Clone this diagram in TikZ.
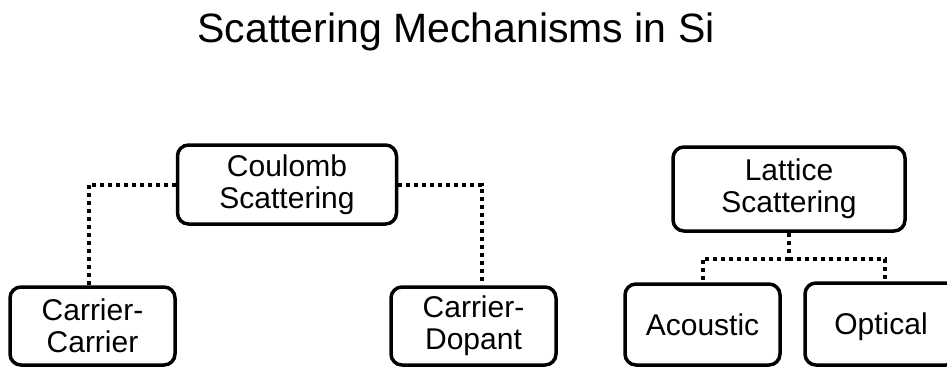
\documentclass[tikz,border=0pt]{standalone}
\usepackage{fontspec}
\setmainfont{Liberation Sans}
\begin{document}
\begin{tikzpicture}[x=1pt,y=-1pt,
  box/.style={draw=black, line width=3.5pt, rounded corners=11pt, fill=white,
    align=center, inner sep=0pt, font=\fontsize{30}{32}\selectfont},
  link/.style={line width=4pt, dash pattern=on 4pt off 4pt}]
  \useasboundingbox (0,0) rectangle (947,367);
  \clip (0,0) rectangle (947,367);

  % title
  \node[anchor=base, font=\fontsize{41}{44}\selectfont] (title) at (456,42)
    {Scattering Mechanisms in Si};

  % Coulomb branch
  \node[box, minimum width=219pt, minimum height=79pt] (coul) at (287,184.5)
    {Coulomb\\Scattering};
  \node[box, minimum width=165pt, minimum height=78pt] (cc) at (92.5,326)
    {Carrier-\\Carrier};
  \node[box, minimum width=165pt, minimum height=78pt] (cd) at (473.5,326)
    {Carrier-\\Dopant};

  % Lattice branch
  \node[box, minimum width=232pt, minimum height=84pt] (lat) at (789,189)
    {Lattice\\Scattering};
  \node[box, text depth=0pt, minimum width=155pt, minimum height=81pt] (ac) at (702.5,324.5)
    {Acoustic};
  \node[box, text depth=0pt, minimum width=152pt, minimum height=82pt] (op) at (881,324)
    {Optical};

  % connectors
  \draw[link] (coul.west) -| ([xshift=-4pt]cc.north);
  \draw[link] (coul.east) -| ([xshift=8pt]cd.north);
  \coordinate (split) at ([yshift=-26pt]lat.south);
  \draw[link] (lat.south) -- (split);
  \draw[link] (split) -| (ac.north);
  \draw[link] (split) -| ([xshift=4pt]op.north);
\end{tikzpicture}
\end{document}
